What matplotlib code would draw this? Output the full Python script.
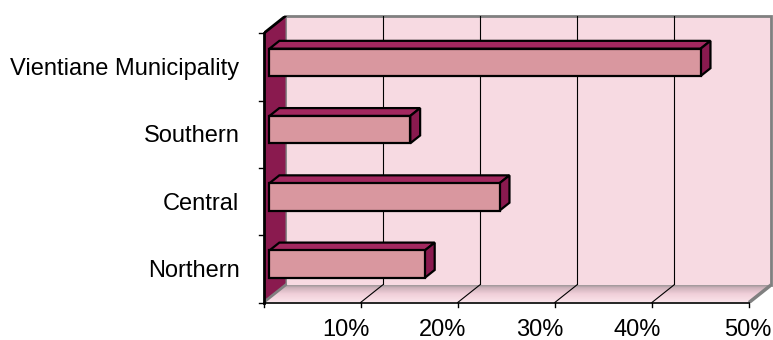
import numpy as np
import matplotlib
matplotlib.use("Agg")
import matplotlib.pyplot as plt
import matplotlib.transforms as mtransforms
from matplotlib.patches import Polygon, Rectangle
from matplotlib.colors import LinearSegmentedColormap

# share of each region (percent), bottom to top
regions = ['Northern', 'Central', 'Southern', 'Vientiane Municipality']
shares = [16.0, 23.7, 14.5, 44.4]
xticks = [0, 10, 20, 30, 40, 50]
xticklabels = ['', '10%', '20%', '30%', '40%', '50%']

plt.rcParams['font.family'] = ['Liberation Sans', 'DejaVu Sans']

# depth of the 3d box in data units, and where the bars sit inside it
DX, DY = 2.264, 0.26
F1, F2 = 0.27, 0.72
BAR_H = 0.407

wall_c = '#F7DAE2'
side_wall_c = '#8A1A4F'
front_c = '#D9979F'
top_c = '#A3285F'
end_c = '#8A1A4F'
edge_gray = '#808080'

fig = plt.figure(figsize=(7.73, 3.4), dpi=100)
ax = fig.add_axes([263.5 / 773, 37.5 / 340, 507.5 / 773, 286.5 / 340])
xmax = xticks[-1]
ncat = len(regions)
ax.set_xlim(0, xmax + DX)
ax.set_ylim(0, ncat + DY)
ax.axis('off')

# back wall
ax.add_patch(Rectangle((DX, DY), xmax, ncat, fc=wall_c, ec='none', zorder=0))
ax.plot([DX, DX, xmax + DX, xmax + DX], [DY, ncat + DY, ncat + DY, DY],
        color=edge_gray, lw=2, zorder=1, clip_on=False, solid_joinstyle='miter')
for t in xticks[1:-1]:
    ax.plot([t + DX, t + DX], [DY, ncat + DY], color='black', lw=0.8, zorder=1)

# floor with a shaded gradient
floor = Polygon([(0, 0), (xmax, 0), (xmax + DX, DY), (DX, DY)],
                closed=True, fc='none', ec='none', zorder=1)
ax.add_patch(floor)
floor_cmap = LinearSegmentedColormap.from_list(
    'floor', [(0.0, '#FAE3EA'), (0.45, '#F1CFD9'), (0.8, '#CDB2BB'), (1.0, '#8C8C8C')])
grad = np.linspace(0, 1, 64).reshape(-1, 1)
im = ax.imshow(grad, extent=[0, xmax + DX, 0, DY], origin='lower',
               cmap=floor_cmap, aspect='auto', zorder=1)
im.set_clip_path(floor)
for t in xticks[1:-1]:
    ax.plot([t, t + DX], [0, DY], color='black', lw=0.8, zorder=2)
ax.plot([xmax, xmax + DX], [0, DY], color=edge_gray, lw=2.5, zorder=2,
        solid_capstyle='butt')

# left side wall
ax.add_patch(Polygon([(0, 0), (DX, DY), (DX, ncat + DY), (0, ncat)],
                     closed=True, fc=side_wall_c, ec='none', zorder=2))
ax.plot([0, DX], [0, DY], color=edge_gray, lw=2, zorder=3)
ax.plot([0, DX], [ncat, ncat + DY], color='black', lw=2, zorder=3,
        solid_capstyle='round')

# axis lines and ticks
ax.plot([0, 0], [0, ncat], color='black', lw=2, zorder=6, clip_on=False)
ax.plot([0, xmax], [0, 0], color='black', lw=1.2, zorder=6, clip_on=False)
tx = 4 / 9.71
ty = 4 / 67.25
for k in range(ncat + 1):
    ax.plot([-tx, 0], [k, k], color='black', lw=1, zorder=6, clip_on=False)
for t in xticks:
    ax.plot([t, t], [0, -ty], color='black', lw=1, zorder=6, clip_on=False)

# bars
ddx = (F2 - F1) * DX
ddy = (F2 - F1) * DY
for i, v in enumerate(shares):
    x0 = F1 * DX
    y0 = i + 0.5 - BAR_H / 2 + F1 * DY
    y1 = y0 + BAR_H
    ax.add_patch(Polygon([(x0, y1), (x0 + v, y1), (x0 + v + ddx, y1 + ddy), (x0 + ddx, y1 + ddy)],
                         closed=True, fc=top_c, ec='black', lw=1.6, zorder=4,
                         joinstyle='miter'))
    ax.add_patch(Polygon([(x0 + v, y0), (x0 + v + ddx, y0 + ddy), (x0 + v + ddx, y1 + ddy), (x0 + v, y1)],
                         closed=True, fc=end_c, ec='black', lw=1.6, zorder=4,
                         joinstyle='miter'))
    ax.add_patch(Rectangle((x0, y0), v, BAR_H, fc=front_c, ec='black', lw=1.6,
                           zorder=5, joinstyle='miter'))

# labels
for i, name in enumerate(regions):
    tr = mtransforms.offset_copy(ax.transData, fig=fig, x=-24, y=-8, units='dots')
    ax.text(0, i + 0.5, name, transform=tr, ha='right', va='baseline',
            fontsize=17, color='black')
for t, lab in zip(xticks, xticklabels):
    shift = -15 if t < xmax else -1
    tr = mtransforms.offset_copy(ax.transData, fig=fig, x=shift, y=-33, units='dots')
    ax.text(t, 0, lab, transform=tr, ha='center', va='baseline',
            fontsize=17, color='black')

fig.savefig('out.png', dpi=100)
